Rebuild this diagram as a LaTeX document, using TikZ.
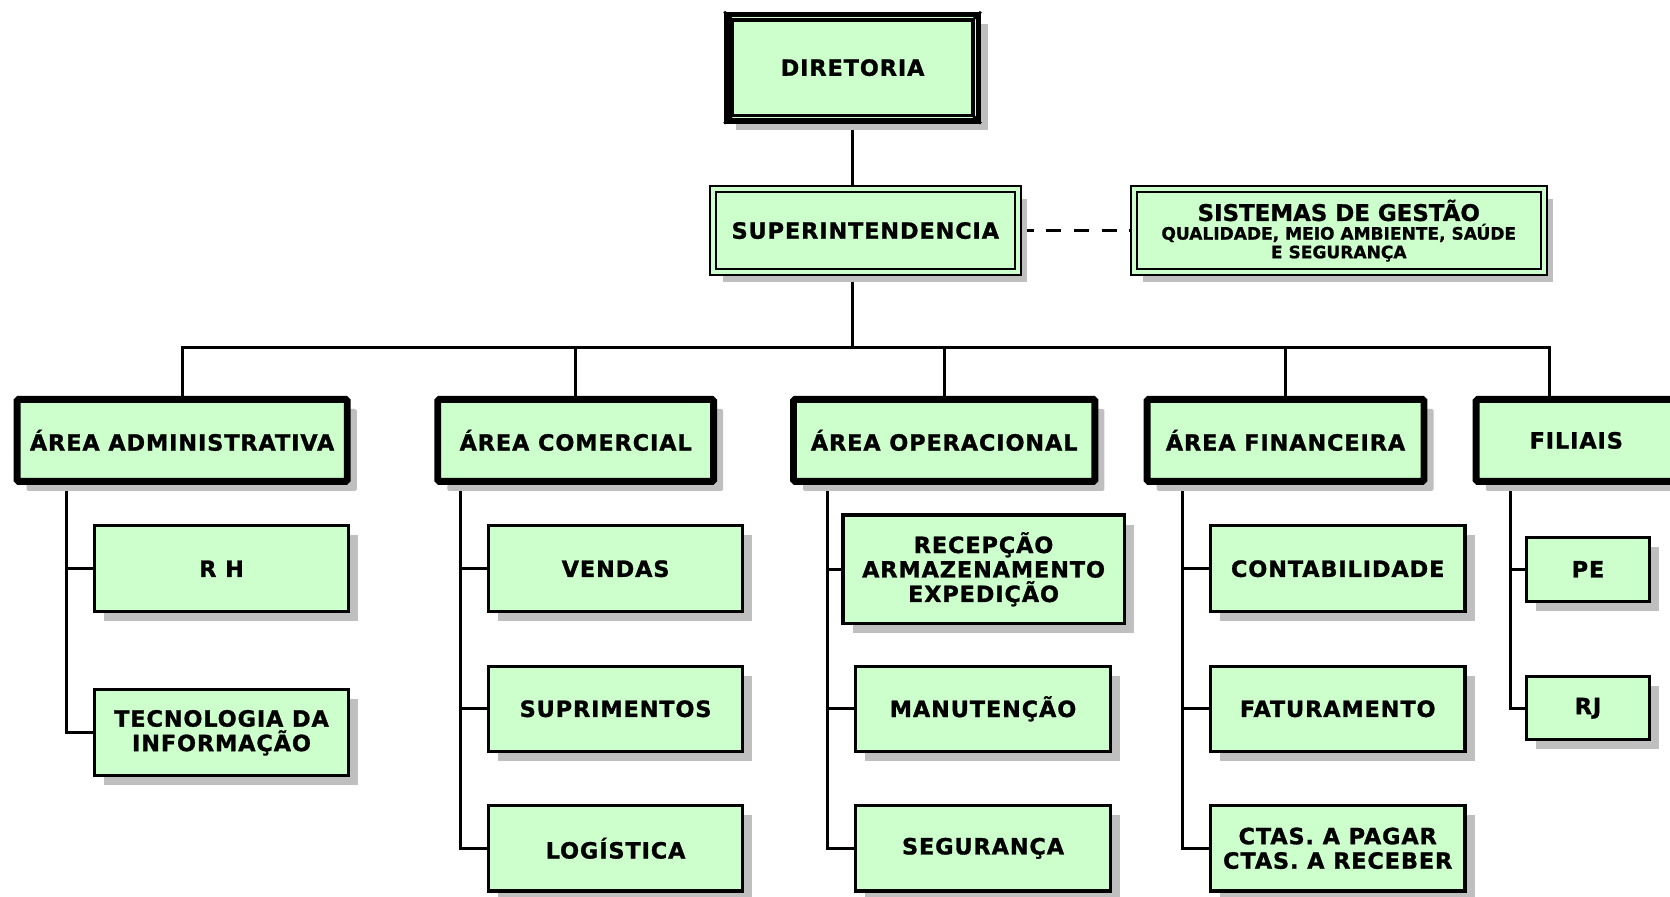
\documentclass[tikz,border=0pt]{standalone}
\usepackage{fontspec}
\newfontfamily\vfont{DejaVu Sans}[LetterSpace=4,FakeBold=1.2]
\newfontfamily\tfont{DejaVu Sans}[FakeBold=1]
\usetikzlibrary{shadows}
\definecolor{boxgreen}{HTML}{CCFFCC}
\definecolor{shadowgray}{HTML}{BFBFBF}
\pgfdeclarelayer{bg}
\pgfsetlayers{bg,main}
\tikzset{
  base/.style={rectangle, fill=boxgreen, inner sep=0pt, align=center,
    font=\vfont\bfseries\fontsize{21}{23}\selectfont,
    general shadow={fill=shadowgray, shadow xshift=9pt, shadow yshift=-9pt}},
  lvlthree/.style={base, draw, line width=3pt},
  lvltwo/.style={base, draw, line width=6.5pt, rounded corners=1.5pt},
  dbl/.style={base, draw, line width=1.8pt, double=boxgreen, double distance=4pt},
  conn/.style={line width=2.8pt, line join=miter},
}
\begin{document}
\begin{tikzpicture}[x=1pt,y=-1pt]
\useasboundingbox (0,0) rectangle (1568,842);
\clip (0,0) rectangle (1568,842);
% top
\node[base, draw, line width=5pt, minimum width=236pt, minimum height=100pt] (dir) at (800.5,63.5) {DIRETORIA};
\draw[line width=3.5pt] ([shift={(7.5,7.5)}]dir.north west) rectangle ([shift={(-7.5,-7.5)}]dir.south east);
\draw[line width=2.5pt] (dir.north west) -- ([shift={(7.5,7.5)}]dir.north west);
\draw[line width=2.5pt] (dir.north east) -- ([shift={(-7.5,7.5)}]dir.north east);
\draw[line width=2.5pt] (dir.south west) -- ([shift={(7.5,-7.5)}]dir.south west);
\draw[line width=2.5pt] (dir.south east) -- ([shift={(-7.5,-7.5)}]dir.south east);
\node[dbl, minimum width=286pt, minimum height=78pt] (sup) at (812.5,216.5) {SUPERINTENDENCIA};
\node[dbl, minimum width=385pt, minimum height=78pt, font=\tfont\bfseries\fontsize{16}{17.5}\selectfont] (sis) at (1257,216.5)
  {{\fontsize{21.5}{24}\selectfont SISTEMAS DE GESTÃO}\\QUALIDADE, MEIO AMBIENTE, SAÚDE\\E SEGURANÇA};
% level 2
\node[lvltwo, minimum width=310pt, minimum height=77pt] (adm) at (171,413.5) {ÁREA ADMINISTRATIVA};
\node[lvltwo, minimum width=259pt, minimum height=77pt] (com) at (540.5,413.5) {ÁREA COMERCIAL};
\node[lvltwo, minimum width=283pt, minimum height=77pt] (ope) at (886.5,413.5) {ÁREA OPERACIONAL};
\node[lvltwo, minimum width=260pt, minimum height=77pt] (fin) at (1207,413.5) {ÁREA FINANCEIRA};
\node[lvltwo, minimum width=188pt, minimum height=77pt] (fil) at (1480,413.5) {FILIAIS};
% level 3
\node[lvlthree, minimum width=239pt, minimum height=81pt] (rh) at (208,534) {R H};
\node[lvlthree, minimum width=239pt, minimum height=81pt] (ti) at (208,688) {TECNOLOGIA DA\\INFORMAÇÃO};
\node[lvlthree, minimum width=239pt, minimum height=81pt] (ven) at (578,534) {VENDAS};
\node[lvlthree, minimum width=239pt, minimum height=80pt] (sup2) at (578,665.5) {SUPRIMENTOS};
\node[lvlthree, minimum width=239pt, minimum height=80pt] (log) at (578,796.5) {LOGÍSTICA};
\node[lvlthree, minimum width=264pt, minimum height=102pt] (rec) at (923.5,534.5) {RECEPÇÃO\\ARMAZENAMENTO\\EXPEDIÇÃO};
\node[lvlthree, minimum width=239pt, minimum height=80pt] (man) at (923,665.5) {MANUTENÇÃO};
\node[lvlthree, minimum width=239pt, minimum height=80pt] (seg) at (923,796.5) {SEGURANÇA};
\node[lvlthree, minimum width=239pt, minimum height=81pt] (cont) at (1256,534) {CONTABILIDADE};
\node[lvlthree, minimum width=239pt, minimum height=80pt] (fat) at (1256,665.5) {FATURAMENTO};
\node[lvlthree, minimum width=239pt, minimum height=80pt] (ctas) at (1256,796.5) {CTAS. A PAGAR\\CTAS. A RECEBER};
\node[lvlthree, minimum width=115pt, minimum height=60pt] (pe) at (1491,534.5) {PE};
\node[lvlthree, minimum width=115pt, minimum height=59pt] (rj) at (1491,665) {RJ};
% coordinates
\coordinate (bus) at (0,326);
\coordinate (fdrop) at (1455,372);
\coordinate (s1) at (62,455);
\coordinate (s2) at (432,455);
\coordinate (s3) at (777,455);
\coordinate (s4) at (1110,455);
\coordinate (s5) at (1418,455);
\begin{pgfonlayer}{bg}
\draw[conn] (dir.south) -- (dir.south |- sup.north);
\draw[conn, dash pattern=on 14pt off 12pt] (sup.east) -- (sis.west);
\draw[conn] (sup.south -| dir.south) -- (dir.south |- bus);
\draw[conn] (adm.north) -- (adm.north |- bus) -- (fdrop |- bus) -- (fdrop);
\draw[conn] (com.north) -- (com.north |- bus);
\draw[conn] (ope.north) -- (ope.north |- bus);
\draw[conn] (fin.north) -- (fin.north |- bus);
\draw[conn] (s1) |- (ti.west);
\draw[conn] (rh.west) -- (rh.west -| s1);
\draw[conn] (s2) |- (log.west);
\draw[conn] (ven.west) -- (ven.west -| s2);
\draw[conn] (sup2.west) -- (sup2.west -| s2);
\draw[conn] (s3) |- (seg.west);
\draw[conn] (rec.west) -- (rec.west -| s3);
\draw[conn] (man.west) -- (man.west -| s3);
\draw[conn] (s4) |- (ctas.west);
\draw[conn] (cont.west) -- (cont.west -| s4);
\draw[conn] (fat.west) -- (fat.west -| s4);
\draw[conn] (s5) |- (rj.west);
\draw[conn] (pe.west) -- (pe.west -| s5);
\end{pgfonlayer}
\end{tikzpicture}
\end{document}
